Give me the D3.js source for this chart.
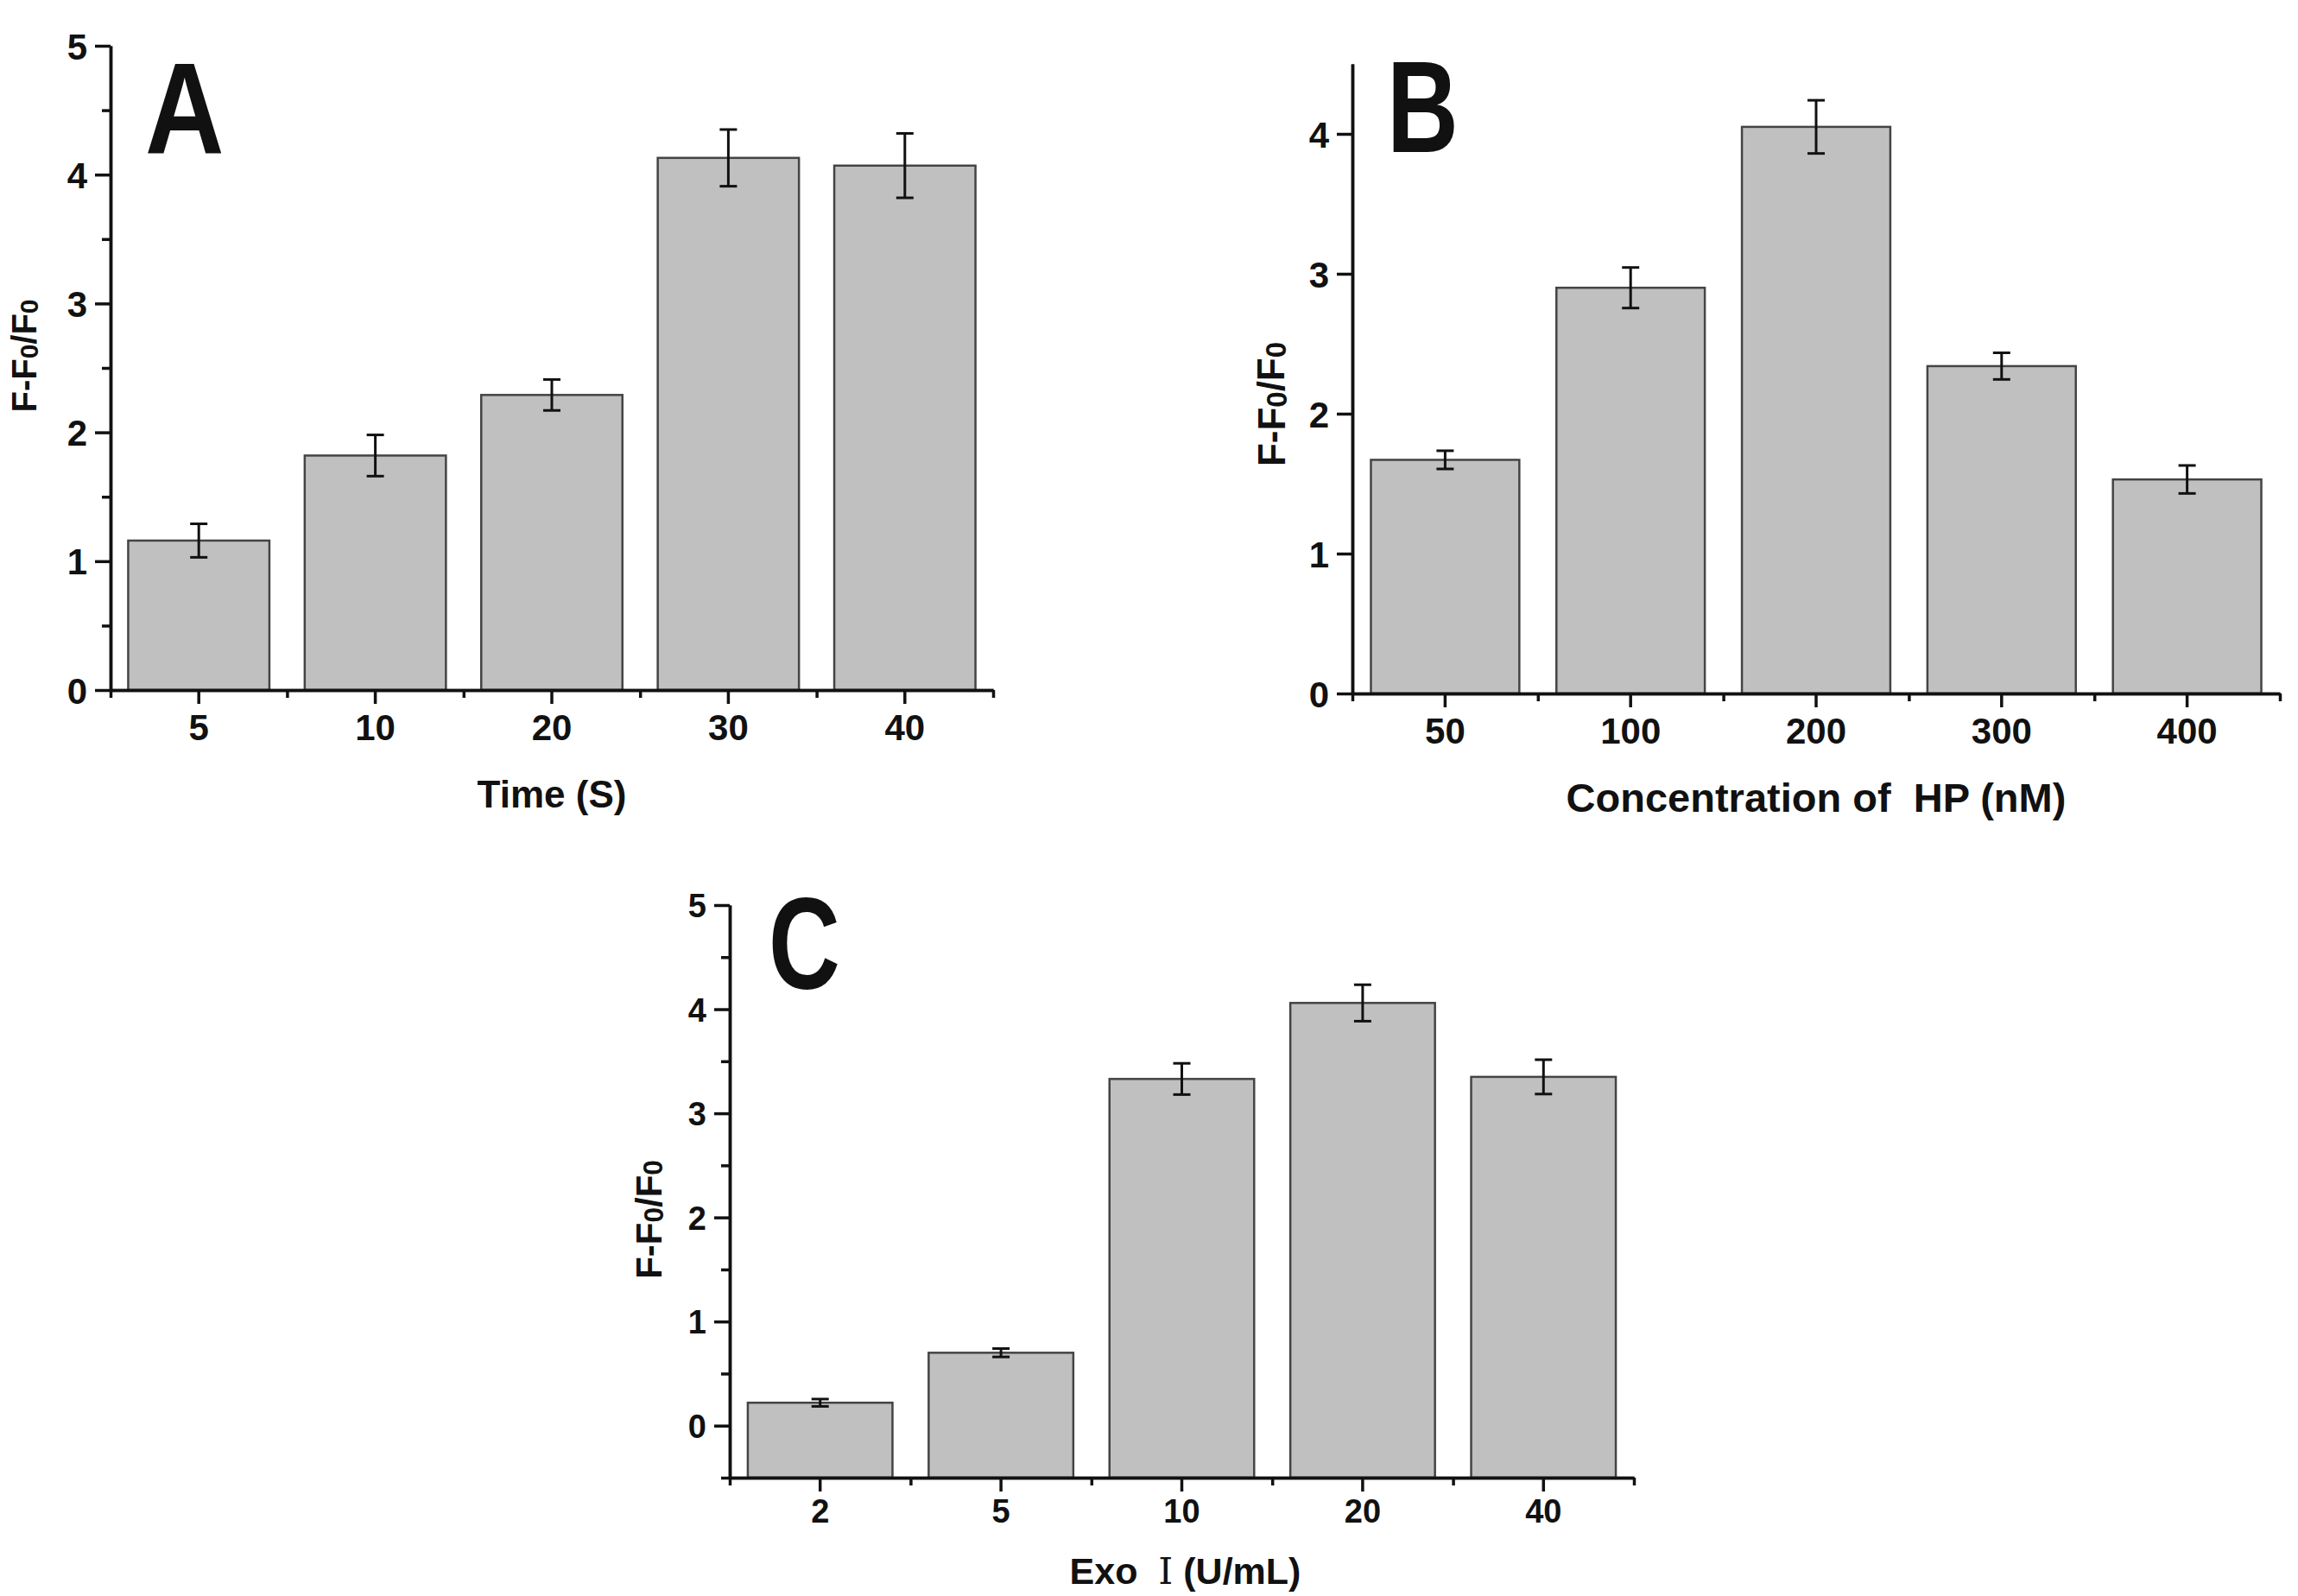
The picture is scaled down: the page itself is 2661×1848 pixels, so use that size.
<!DOCTYPE html>
<html>
<head>
<meta charset="utf-8">
<script src="https://cdn.jsdelivr.net/npm/d3@7"></script>
<style>
  body { margin: 0; background: #fff; }
  svg { display: block; }
  text { font-family: "Liberation Sans", Arial, sans-serif; font-weight: bold; fill: #111; }
</style>
</head>
<body>
<div id="chart"></div>
<script>
// data
const catsA = ["5", "10", "20", "30", "40"];
const valsA = [1.16, 1.82, 2.29, 4.13, 4.07];
const errsA = [0.13, 0.16, 0.12, 0.22, 0.25];

const catsB = ["50", "100", "200", "300", "400"];
const valsB = [1.67, 2.90, 4.05, 2.34, 1.53];
const errsB = [0.065, 0.145, 0.19, 0.095, 0.10];

const catsC = ["2", "5", "10", "20", "40"];
const valsC = [0.22, 0.70, 3.33, 4.06, 3.35];
const errsC = [0.035, 0.04, 0.15, 0.175, 0.165];

const ticksA = [0, 1, 2, 3, 4, 5];
const minorA = [0.5, 1.5, 2.5, 3.5, 4.5];
const ticksB = [0, 1, 2, 3, 4];
const minorB = [];
const ticksC = [0, 1, 2, 3, 4, 5];
const minorC = [-0.5, 0.5, 1.5, 2.5, 3.5, 4.5];

const W = 2661, H = 1848;
const svg = d3.select("#chart").append("svg")
  .attr("width", W).attr("height", H)
  .style("background", "#fff");

function drawPanel(o) {
  const g = svg.append("g");

  const x = d3.scaleBand()
    .domain(o.cats)
    .range([o.left, o.right])
    .paddingInner(0.2)
    .paddingOuter(0.1);

  const y = d3.scaleLinear()
    .domain(o.domain)
    .range([o.bottom, o.top]);

  const rows = o.cats.map((c, i) => ({ cat: c, v: o.vals[i], e: o.errs[i] }));
  const base = y(o.domain[0]);

  // bars
  g.selectAll(".bar")
    .data(rows)
    .enter().append("rect")
    .attr("class", "bar")
    .attr("x", d => x(d.cat))
    .attr("width", x.bandwidth())
    .attr("y", d => y(d.v))
    .attr("height", d => base - y(d.v))
    .style("fill", "#c0c0c0")
    .style("stroke", "#444")
    .style("stroke-width", 2.5);

  // error bars
  const cap = 10;
  const cx = d => x(d.cat) + x.bandwidth() / 2;
  const eb = g.selectAll(".err").data(rows).enter().append("g").attr("class", "err")
    .style("stroke", "#111").style("stroke-width", 3);
  eb.append("line")
    .attr("x1", cx).attr("x2", cx)
    .attr("y1", d => y(d.v - d.e)).attr("y2", d => y(d.v + d.e));
  eb.append("line")
    .attr("x1", d => cx(d) - cap).attr("x2", d => cx(d) + cap)
    .attr("y1", d => y(d.v + d.e)).attr("y2", d => y(d.v + d.e));
  eb.append("line")
    .attr("x1", d => cx(d) - cap).attr("x2", d => cx(d) + cap)
    .attr("y1", d => y(d.v - d.e)).attr("y2", d => y(d.v - d.e));

  // minor x ticks at category boundaries
  const xb = d3.scaleLinear().domain([0, o.cats.length]).range([o.left, o.right]);
  const xMinor = g.append("g")
    .attr("transform", `translate(0,${base})`)
    .call(d3.axisBottom(xb).tickValues(d3.range(o.cats.length + 1)).tickFormat("").tickSize(9).tickSizeOuter(0));

  // main x axis
  const xAxis = g.append("g")
    .attr("transform", `translate(0,${base})`)
    .call(d3.axisBottom(x).tickSize(16).tickPadding(o.xPad).tickSizeOuter(0));
  xAxis.selectAll("text").style("font-size", o.tickFont + "px");

  // y axis
  const yMinor = g.append("g")
    .attr("transform", `translate(${o.left},0)`)
    .call(d3.axisLeft(y).tickValues(o.minor).tickFormat("").tickSize(10).tickSizeOuter(0));
  const yAxis = g.append("g")
    .attr("transform", `translate(${o.left},0)`)
    .call(d3.axisLeft(y).tickValues(o.ticks).tickFormat(d3.format("d")).tickSize(18).tickPadding(9).tickSizeOuter(0));
  yAxis.selectAll("text").style("font-size", o.tickFont + "px").attr("dy", "0.36em");

  [xMinor, xAxis, yMinor, yAxis].forEach(a => {
    a.selectAll("path.domain").style("stroke", "#111").style("stroke-width", 3.5);
    a.selectAll(".tick line").style("stroke", "#111").style("stroke-width", 3.5);
  });

  // axis titles
  const xt = g.append("text")
    .attr("x", (o.left + o.right) / 2 + o.xTitleDx)
    .attr("y", o.xTitleY)
    .attr("text-anchor", "middle")
    .attr("xml:space", "preserve")
    .style("font-size", o.xTitleFont + "px");
  o.xTitle.forEach(part => {
    const t = xt.append("tspan").text(part.t);
    if (part.serif) t.style("font-family", "'DejaVu Serif', 'Noto Sans CJK SC', serif").style("font-weight", "normal");
  });

  const yt = g.append("text")
    .attr("transform", `translate(${o.yTitleX},${o.yTitleY}) rotate(-90)`)
    .attr("text-anchor", "middle")
    .attr("dy", "0.36em")
    .style("font-size", o.yTitleFont + "px");
  yt.append("tspan").text("F-F");
  yt.append("tspan").text("0").style("font-size", "75%").attr("dy", "0.06em");
  yt.append("tspan").text("/F").attr("dy", "-0.06em");
  yt.append("tspan").text("0").style("font-size", "75%").attr("dy", "0.06em");

  // panel letter
  g.append("text")
    .attr("transform", `translate(${o.letterX},${o.letterY}) scale(${o.letterSx},1)`)
    .style("font-size", "151px")
    .text(o.letter);
}

drawPanel({
  cats: catsA, vals: valsA, errs: errsA, ticks: ticksA, minor: minorA,
  domain: [0, 5], left: 128, right: 1150, top: 53, bottom: 799,
  tickFont: 42, xPad: 12,
  xTitle: [{ t: "Time (S)" }], xTitleY: 935, xTitleFont: 44, xTitleDx: 0,
  yTitleX: 28, yTitleY: 412, yTitleFont: 40,
  letter: "A", letterX: 168, letterY: 177, letterSx: 0.84
});

drawPanel({
  cats: catsB, vals: valsB, errs: errsB, ticks: ticksB, minor: minorB,
  domain: [0, 4.5], left: 1566, right: 2640, top: 74, bottom: 803,
  tickFont: 42, xPad: 12,
  xTitle: [{ t: "Concentration of  HP (nM)" }], xTitleY: 940, xTitleFont: 47, xTitleDx: 0,
  yTitleX: 1472, yTitleY: 468, yTitleFont: 44,
  letter: "B", letterX: 1606, letterY: 176, letterSx: 0.76
});

drawPanel({
  cats: catsC, vals: valsC, errs: errsC, ticks: ticksC, minor: minorC,
  domain: [-0.5, 5], left: 845, right: 1892, top: 1048, bottom: 1711,
  tickFont: 38, xPad: 9,
  xTitle: [{ t: "Exo  " }, { t: "Ⅰ", serif: true }, { t: " (U/mL)" }], xTitleY: 1834, xTitleFont: 43, xTitleDx: 4,
  yTitleX: 751, yTitleY: 1412, yTitleFont: 42,
  letter: "C", letterX: 890, letterY: 1145, letterSx: 0.76
});
</script>
</body>
</html>
